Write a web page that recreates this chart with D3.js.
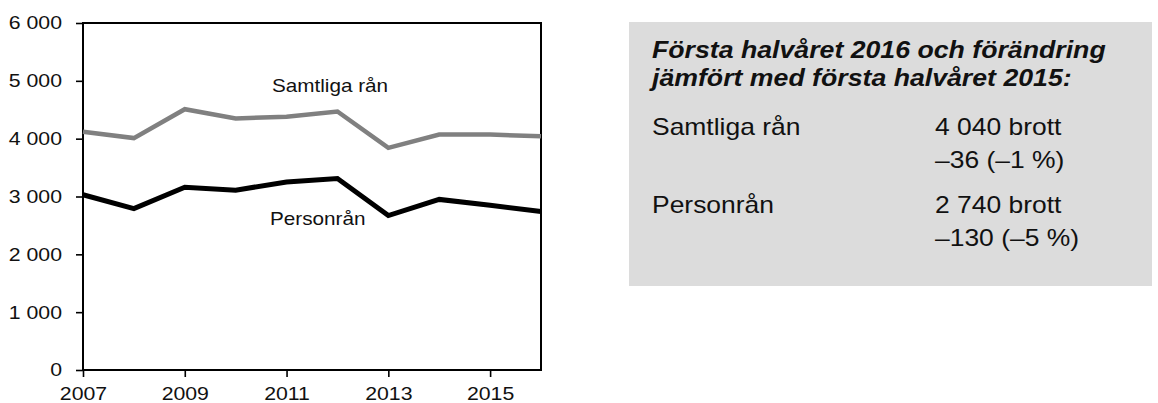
<!DOCTYPE html>
<html>
<head>
<meta charset="utf-8">
<script src="https://cdn.jsdelivr.net/npm/d3@7"></script>
<style>
	body { margin: 0; background: #fff; }
	svg text { font-family: Arial, "Liberation Sans", sans-serif; fill: #111; }
</style>
</head>
<body>
<svg id="chart" width="1158" height="403"></svg>
<script>

var years = [2007, 2008, 2009, 2010, 2011, 2012, 2013, 2014, 2015, 2016];
var samtligaRan = [4120, 4010, 4510, 4350, 4380, 4470, 3840, 4070, 4070, 4040];
var personRan = [3030, 2790, 3160, 3110, 3250, 3310, 2670, 2950, 2850, 2740];

var yTicks = [0, 1000, 2000, 3000, 4000, 5000, 6000];
var xTicks = [2007, 2009, 2011, 2013, 2015];

var boxTitle = ["Första halvåret 2016 och förändring", "jämfört med första halvåret 2015:"];
var boxLabels = ["Samtliga rån", "Personrån"];
var boxValues = [["4 040 brott", "–36 (–1 %)"], ["2 740 brott", "–130 (–5 %)"]];


var sx = 1.15  // the source text is a bit wider than Arial

var svg = d3.select("#chart");

var x = d3.scaleLinear().domain([2007, 2016]).range([83, 541]);
var y = d3.scaleLinear().domain([0, 6000]).range([370, 23]);

var fmt = function(d) { return d3.format(",")(d).replace(/,/g, " "); }


// axes
var yAxis = svg.append("g")
	.attr("transform", "translate(83,0)")
	.call(d3.axisLeft(y).tickValues(yTicks).tickSize(7).tickPadding(14).tickFormat(fmt));

var xAxis = svg.append("g")
	.attr("transform", "translate(0,370)")
	.call(d3.axisBottom(x).tickValues(xTicks).tickSize(7).tickPadding(10).tickFormat(d3.format("d")));

svg.selectAll(".domain").remove();
svg.selectAll(".tick line").attr("stroke", "#000").attr("stroke-width", 1.6);
svg.selectAll(".tick text")
	.style("font-size", "18.5px")
	.attr("fill", "#111");

yAxis.selectAll(".tick text")
	.attr("x", -21 / sx)
	.attr("transform", "scale(" + sx + ",1)");
xAxis.selectAll(".tick text")
	.attr("transform", "scale(" + sx + ",1)");


// plot frame
svg.append("rect")
	.attr("x", x(2007))
	.attr("y", y(6000))
	.attr("width", x(2016) - x(2007))
	.attr("height", y(0) - y(6000))
	.attr("fill", "none")
	.attr("stroke", "#000")
	.attr("stroke-width", 2);


// lines
var line = d3.line()
	.x(function(d, i) { return x(years[i]); })
	.y(function(d) { return y(d); });

svg.append("path")
	.datum(samtligaRan)
	.attr("d", line)
	.attr("fill", "none")
	.attr("stroke", "#808080")
	.attr("stroke-width", 4.5);

svg.append("path")
	.datum(personRan)
	.attr("d", line)
	.attr("fill", "none")
	.attr("stroke", "#000")
	.attr("stroke-width", 5);


function stretchedText(g, tx, ty, str, size, weight, style)
{
	return g.append("text")
		.attr("transform", "translate(" + tx + "," + ty + ") scale(" + sx + ",1)")
		.style("font-size", size + "px")
		.style("font-weight", weight || "normal")
		.style("font-style", style || "normal")
		.text(str);
}

stretchedText(svg, 272, 92, "Samtliga rån", 18);
stretchedText(svg, 270, 225, "Personrån", 18);


// summary box
var box = svg.append("g");

box.append("rect")
	.attr("x", 629)
	.attr("y", 22)
	.attr("width", 523)
	.attr("height", 264)
	.attr("fill", "#dcdcdc");

boxTitle.forEach(function(t, i) {
	stretchedText(box, 652, 58 + i * 28, t, 23.2, "bold", "italic");
});

boxLabels.forEach(function(t, i) {
	stretchedText(box, 652, 135 + i * 78, t, 23);
	boxValues[i].forEach(function(v, j) {
		stretchedText(box, 935, 135 + i * 78 + j * 33, v, 23);
	});
});

</script>
</body>
</html>
